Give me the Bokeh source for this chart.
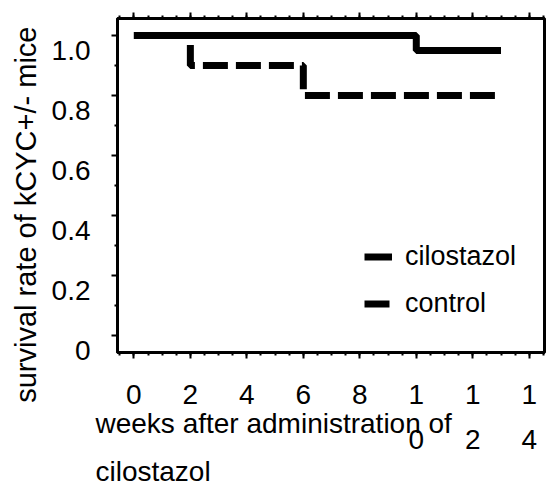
from bokeh.plotting import figure
from bokeh.models import (Range1d, LinearAxis, FixedTicker, SingleIntervalTicker,
                          Legend, LegendItem, Title)
from bokeh.embed import file_html
from bokeh.resources import INLINE

# ---- data ----
weeks_cilostazol = [0, 10, 13]
survival_cilostazol = [1.0, 0.95, 0.95]
weeks_control = [0, 2, 6, 13]
survival_control = [1.0, 0.9, 0.8, 0.8]

x_ticks = [0, 2, 4, 6, 8, 10, 12, 14]
x_tick_labels = ["0", "2", "4", "6", "8", "1\n0", "1\n2", "1\n4"]
y_ticks = [0, 0.2, 0.4, 0.6, 0.8, 1.0]
y_minor_ticks = [0.1, 0.3, 0.5, 0.7, 0.9]
y_tick_labels = ["0", "0.2", "0.4", "0.6", "0.8", "1.0"]
series_names = ["cilostazol", "control"]
x_label = "weeks after administration of\ncilostazol"
y_label = "survival rate of kCYC+/- mice"

FONT = "Liberation Sans"
Y_LABEL_SHIFT = 0.05   # tick labels sit a little below their ticks in the reference

p = figure(width=547, height=486, output_backend="svg", toolbar_location=None,
           x_range=Range1d(-0.58, 14.54), y_range=Range1d(-0.057, 1.057),
           min_border_left=116, min_border_right=3, min_border_top=18,
           min_border_bottom=134)
p.grid.visible = False
p.outline_line_color = "black"
p.outline_line_width = 3
p.background_fill_color = "white"
p.border_fill_color = "white"

def style_axis(ax):
    ax.axis_line_color = "black"
    ax.axis_line_width = 3
    ax.major_tick_line_color = "black"
    ax.minor_tick_line_color = "black"
    ax.major_tick_line_width = 2
    ax.minor_tick_line_width = 2
    ax.major_tick_in = 0
    ax.major_tick_out = 6
    ax.minor_tick_in = 0
    ax.minor_tick_out = 3
    ax.major_label_text_font = FONT
    ax.major_label_text_color = "black"

# bottom axis
xb = p.xaxis[0]
style_axis(xb)
xb.ticker = SingleIntervalTicker(interval=2, num_minor_ticks=4)
xb.major_label_overrides = dict(zip(x_ticks, x_tick_labels))
xb.major_label_text_font_size = "28px"
xb.major_label_text_line_height = 1.48
xb.major_label_standoff = 20

# left axis: line and ticks
yl = p.yaxis[0]
style_axis(yl)
yl.ticker = FixedTicker(ticks=y_ticks, minor_ticks=y_minor_ticks)
yl.major_label_overrides = {t: "" for t in y_ticks}
yl.major_label_text_font_size = "0px"
yl.major_label_standoff = 0

# left axis: tick labels (placed slightly below ticks as in the reference)
y_label_pos = [t - Y_LABEL_SHIFT for t in y_ticks]
ylab = LinearAxis(ticker=FixedTicker(ticks=y_label_pos, minor_ticks=[]),
                  major_label_overrides=dict(zip(y_label_pos, y_tick_labels)))
ylab.axis_line_color = None
ylab.major_tick_line_color = None
ylab.minor_tick_line_color = None
ylab.major_tick_out = 0
ylab.minor_tick_out = 0
ylab.major_label_text_font = FONT
ylab.major_label_text_font_size = "28px"
ylab.major_label_text_color = "black"
ylab.major_label_standoff = 21
p.add_layout(ylab, "left")

# top axis: ticks only
top = LinearAxis(ticker=SingleIntervalTicker(interval=2, num_minor_ticks=4))
style_axis(top)
top.major_label_overrides = {t: "" for t in x_ticks}
top.major_label_text_font_size = "0px"
top.major_label_standoff = 0
p.add_layout(top, "above")

# axis titles
ytitle = Title(text=y_label, align="right", offset=8, standoff=14,
               text_font=FONT, text_font_size="29px", text_font_style="normal",
               text_color="black")
p.add_layout(ytitle, "left")
xtitle = Title(text=x_label, align="left", offset=-22, standoff=-101,
               vertical_align="top",
               text_font=FONT, text_font_size="28px", text_font_style="normal",
               text_color="black", text_line_height=1.55)
p.add_layout(xtitle, "below")

# survival curves
r_ctrl = p.step(weeks_control, survival_control, mode="after", line_width=7,
                line_color="black", line_dash="25 8")
r_cil = p.step(weeks_cilostazol, survival_cilostazol, mode="after", line_width=7,
               line_color="black")

legend = Legend(items=[LegendItem(label=series_names[0], renderers=[r_cil]),
                       LegendItem(label=series_names[1], renderers=[r_ctrl])],
                location=(247, 25), orientation="vertical", padding=0, margin=0,
                spacing=0, glyph_width=28, glyph_height=47, label_height=47,
                label_standoff=13, label_text_font=FONT,
                label_text_font_size="27px",
                label_text_color="black",
                border_line_color=None, background_fill_color=None)
p.add_layout(legend)

open("out.html", "w").write(file_html(p, INLINE))
